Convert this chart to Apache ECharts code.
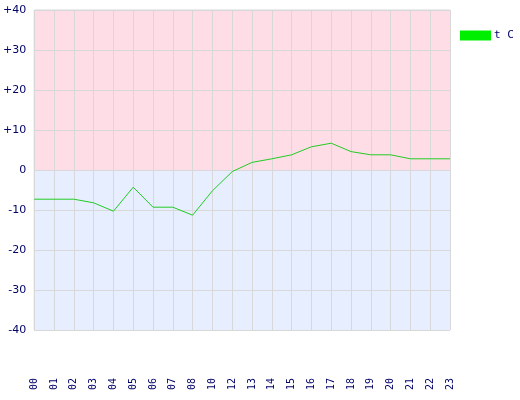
<!DOCTYPE html>
<html><head><meta charset="utf-8">
<script src="https://cdn.jsdelivr.net/npm/echarts@6/dist/echarts.min.js"></script>
<style>html,body{margin:0;padding:0;background:#fff}#c{width:520px;height:400px}</style>
</head><body><div id="c"></div>
<script>
var hours = ['00','01','02','03','04','05','06','07','08','10','12','13','14','15','16','17','18','19','20','21','22','23'];
var temps = [-7.3,-7.3,-7.3,-8.2,-10.3,-4.3,-9.3,-9.3,-11.3,-5.2,-0.4,1.9,2.8,3.8,5.8,6.7,4.6,3.8,3.8,2.8,2.8,2.8];
var seriesName = 't C';
var fontFam = 'DejaVu Sans, Verdana, sans-serif';
var monoFam = 'DejaVu Sans Mono, Liberation Mono, monospace';
var chart = echarts.init(document.getElementById('c'), null, {renderer:'canvas'});
chart.setOption({
  animation:false,
  backgroundColor:'#ffffff',
  grid:{left:30, top:10, width:420, height:320, show:true, borderColor:'#d8d8d8', borderWidth:1, z:0},
  legend:{show:true, left:460, top:30, padding:0, orient:'vertical', icon:'rect', itemWidth:31, itemHeight:10, itemGap:4,
    textStyle:{color:'#000066', fontFamily:monoFam, fontSize:11, padding:[0,0,0,-2]},
    data:[{name:seriesName, icon:'rect', itemStyle:{color:'#00ee00'}}]},
  xAxis:{type:'category', data:hours, boundaryGap:false, z:3,
    axisLine:{show:false}, axisTick:{show:false},
    axisLabel:{rotate:90, margin:48, color:'#000066', fontFamily:monoFam, fontSize:10, interval:0},
    splitLine:{show:true, lineStyle:{color:'#d8d8d8', width:1}}},
  yAxis:{type:'value', min:-40, max:40, interval:10, z:3,
    axisLine:{show:false}, axisTick:{show:false},
    axisLabel:{color:'#000066', fontFamily:fontFam, fontSize:11, margin:8,
      formatter:function(v){return v>0?'+'+v:String(v);}},
    splitLine:{show:true, lineStyle:{color:'#d8d8d8', width:1}}},
  series:[
    {name:'bg', type:'line', data:[], z:1, silent:true,
      markArea:{silent:true, data:[
        [{yAxis:0, itemStyle:{color:'#ffdde6'}},{yAxis:40}],
        [{yAxis:-40, itemStyle:{color:'#e6eeff'}},{yAxis:0}]
      ]}},
    {name:seriesName, type:'line', data:temps, symbol:'none', z:5,
      lineStyle:{color:'#22cc22', width:1}, itemStyle:{color:'#00ee00'}}
  ]
});
</script></body></html>
